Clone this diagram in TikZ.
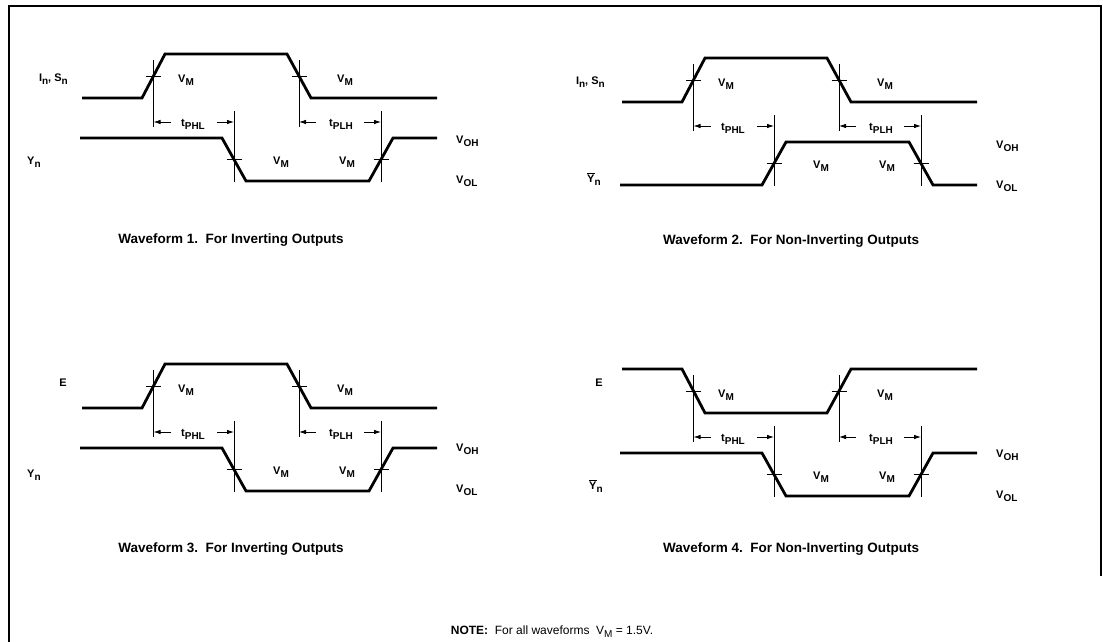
\documentclass[tikz,border=0pt]{standalone}
\usepackage{fontspec}
\setmainfont{Liberation Sans}
\usetikzlibrary{arrows.meta}
\tikzset{
  wave/.style={line width=2.8pt, line join=miter},
  meas/.style={line width=0.8pt},
  dimarrow/.style={line width=0.8pt, -{Latex[length=7pt,width=4.5pt]}},
  lbl/.style={inner sep=0pt, font=\bfseries\fontsize{11}{13}\selectfont},
  captext/.style={inner sep=0pt, font=\bfseries\fontsize{13.5}{15}\selectfont},
  frameline/.style={line width=2.2pt},
}
\newcommand\Sb[2]{#1\raisebox{-3pt}{\fontsize{10}{11}\selectfont #2}}
\newcommand\WaveMarks[1]{%
  \coordinate (#1ir) at (153.5,122);
  \coordinate (#1if) at (299,122);
  \coordinate (#1of) at (234,122);
  \coordinate (#1or) at (381,122);
  \draw[meas] (153.5,60) -- (153.5,127);
  \draw[meas] (299,60) -- (299,127);
  \draw[meas] (234,111) -- (234,182);
  \draw[meas] (381,111) -- (381,182);
  \draw[meas] (146,76) -- (161,76);
  \draw[meas] (291.5,76) -- (306.5,76);
  \draw[meas] (226.5,159.5) -- (241.5,159.5);
  \draw[meas] (373.5,159.5) -- (388.5,159.5);
  \draw[dimarrow] ([xshift=17pt]#1ir) -- (#1ir);
  \draw[dimarrow] ([xshift=-17pt]#1of) -- (#1of);
  \draw[dimarrow] ([xshift=17pt]#1if) -- (#1if);
  \draw[dimarrow] ([xshift=-17pt]#1or) -- (#1or);
  \node[lbl] (#1tphl) at (193,124) {\Sb{t}{PHL}};
  \node[lbl] (#1tplh) at (341,124) {\Sb{t}{PLH}};
  \node[lbl] (#1vm1) at (186,80) {\Sb{V}{M}};
  \node[lbl] (#1vm2) at (345,80) {\Sb{V}{M}};
  \node[lbl] (#1vm3) at (281,162) {\Sb{V}{M}};
  \node[lbl] (#1vm4) at (347,162) {\Sb{V}{M}};
}
\begin{document}
\begin{tikzpicture}[x=1pt,y=-1pt]
\useasboundingbox (0,0) rectangle (1103,642);
\fill[white] (0,0) rectangle (1103,642);
% frame
\draw[frameline] (9,642) -- (9,6) -- (1101,6) -- (1101,576);

% ---------- Waveform 1 ----------
\begin{scope}
  \draw[wave] (82,98) -- (142,98) -- (165,54) -- (287,54) -- (311,98) -- (437,98);
  \draw[wave] (80,138) -- (222,138) -- (246,181) -- (369,181) -- (393,138) -- (437,138);
  \WaveMarks{a}
  \node[lbl, anchor=east] (ain) at (68,79) {\Sb{I}{n}, \Sb{S}{n}};
  \node[lbl, anchor=west] (ay) at (27,162) {\Sb{Y}{n}};
  \node[lbl, anchor=west] (avoh) at (456,141) {\Sb{V}{OH}};
  \node[lbl, anchor=west] (avol) at (456,181) {\Sb{V}{OL}};
  \node[captext] (acap) at (231,240) {Waveform 1.\ \ For Inverting Outputs};
\end{scope}

% ---------- Waveform 2 ----------
\begin{scope}[shift={(540,4)}]
  \draw[wave] (82,98) -- (142,98) -- (165,54) -- (287,54) -- (311,98) -- (437,98);
  \draw[wave] (80,181) -- (222,181) -- (246,138) -- (369,138) -- (393,181) -- (437,181);
  \WaveMarks{b}
  \node[lbl, anchor=east] (bin) at (65,78) {\Sb{I}{n}, \Sb{S}{n}};
  \node[lbl, anchor=west] (by) at (47,175) {\Sb{$\overline{\mbox{Y}}$}{n}};
  \node[lbl, anchor=west] (bvoh) at (456,142) {\Sb{V}{OH}};
  \node[lbl, anchor=west] (bvol) at (456,182) {\Sb{V}{OL}};
  \node[captext] (bcap) at (251,237) {Waveform 2.\ \ For Non-Inverting Outputs};
\end{scope}

% ---------- Waveform 3 ----------
\begin{scope}[shift={(0,310)}]
  \draw[wave] (82,98) -- (142,98) -- (165,54) -- (287,54) -- (311,98) -- (437,98);
  \draw[wave] (80,138) -- (222,138) -- (246,181) -- (369,181) -- (393,138) -- (437,138);
  \WaveMarks{c}
  \node[lbl, anchor=east] (cin) at (67,73) {E};
  \node[lbl, anchor=west] (cy) at (27,165) {\Sb{Y}{n}};
  \node[lbl, anchor=west] (cvoh) at (456,139) {\Sb{V}{OH}};
  \node[lbl, anchor=west] (cvol) at (456,180) {\Sb{V}{OL}};
  \node[captext] (ccap) at (231,239) {Waveform 3.\ \ For Inverting Outputs};
\end{scope}

% ---------- Waveform 4 ----------
\begin{scope}[shift={(540,315)}]
  \draw[wave] (82,54) -- (142,54) -- (165,98) -- (287,98) -- (311,54) -- (437,54);
  \draw[wave] (80,138) -- (222,138) -- (246,181) -- (369,181) -- (393,138) -- (437,138);
  \WaveMarks{d}
  \node[lbl, anchor=east] (din) at (63,68) {E};
  \node[lbl, anchor=west] (dy) at (49,171) {\Sb{$\overline{\mbox{Y}}$}{n}};
  \node[lbl, anchor=west] (dvoh) at (456,140) {\Sb{V}{OH}};
  \node[lbl, anchor=west] (dvol) at (456,181) {\Sb{V}{OL}};
  \node[captext] (dcap) at (251,234) {Waveform 4.\ \ For Non-Inverting Outputs};
\end{scope}

% note
\node[inner sep=0pt, font=\fontsize{12}{14}\selectfont] (note) at (552,632)
  {\textbf{NOTE:}\ \ For all waveforms\ \ \Sb{V}{M} = 1.5V.};
\end{tikzpicture}
\end{document}
